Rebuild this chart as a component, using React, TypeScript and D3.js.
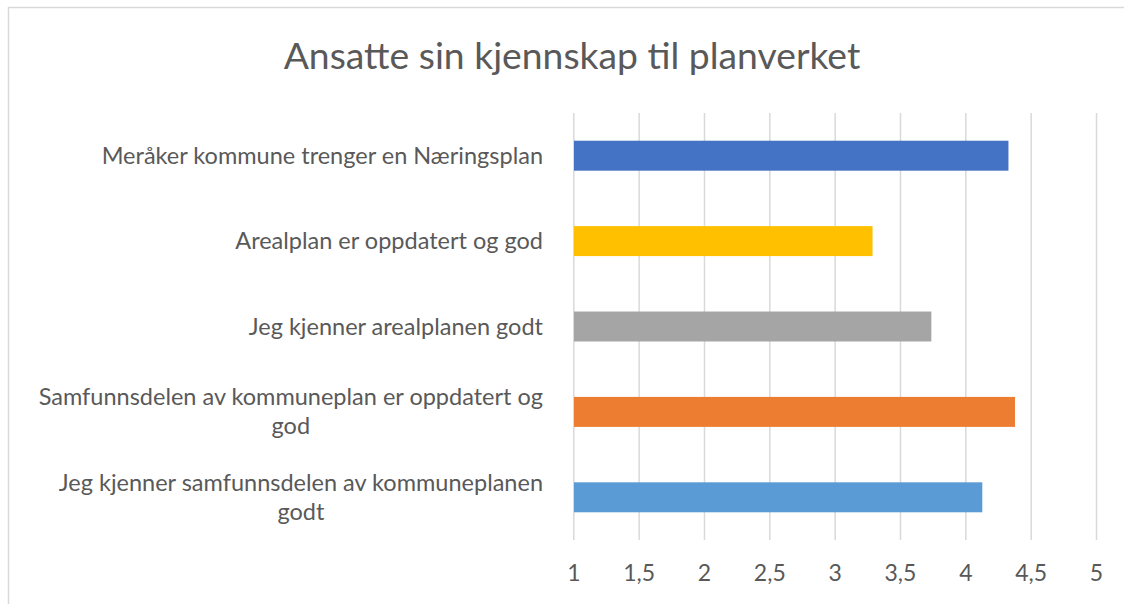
import React, { useEffect, useRef } from 'react';
import * as d3 from 'd3';

// chart data
const title = 'Ansatte sin kjennskap til planverket';
const categories = [
  'Meråker kommune trenger en Næringsplan',
  'Arealplan er oppdatert og god',
  'Jeg kjenner arealplanen godt',
  'Samfunnsdelen av kommuneplan er oppdatert og\ngod',
  'Jeg kjenner samfunnsdelen av kommuneplanen\ngodt',
];
const values = [4.33, 3.29, 3.74, 4.38, 4.13];
const barColors = ['#4472C4', '#FFC000', '#A5A5A5', '#ED7D31', '#5B9BD5'];
const xTicks = [1, 1.5, 2, 2.5, 3, 3.5, 4, 4.5, 5];

const W = 1124;
const H = 604;
const FONT = 'Lato, "Open Sans", sans-serif';

export default function App() {
  const ref = useRef<SVGSVGElement>(null);

  useEffect(() => {
    const svg = d3.select(ref.current);
    svg.selectAll('*').remove();

    const plot = { left: 573.3, right: 1096, top: 113, bottom: 540 };

    const x = d3.scaleLinear().domain([1, 5]).range([plot.left, plot.right]);
    const y = d3.scaleBand<string>()
      .domain(categories)
      .range([plot.top, plot.bottom])
      .paddingInner(0.649)
      .paddingOuter(0.3245);

    // chart frame (runs off the picture at right and bottom)
    svg.append('rect')
      .attr('x', 8.5).attr('y', 7.5)
      .attr('width', 1300).attr('height', 800)
      .attr('fill', '#fff')
      .attr('stroke', '#d9d9d9')
      .attr('stroke-width', 1.5);

    svg.append('text')
      .attr('x', 572).attr('y', 69)
      .attr('text-anchor', 'middle')
      .attr('font-family', FONT)
      .attr('font-size', 37.3)
      .attr('fill', '#595959')
      .text(title);

    // vertical gridlines
    const grid = svg.append('g')
      .attr('transform', 'translate(0,' + plot.bottom + ')')
      .call(d3.axisBottom(x).tickValues(xTicks).tickSize(-(plot.bottom - plot.top)).tickFormat(() => ''));
    grid.select('.domain').remove();
    grid.selectAll('line').attr('stroke', '#d9d9d9').attr('stroke-width', 1.5);

    // bars
    svg.append('g')
      .selectAll('rect')
      .data(categories)
      .join('rect')
      .attr('x', x(1) + 0.7)
      .attr('y', d => y(d)!)
      .attr('height', y.bandwidth())
      .attr('width', (d, i) => x(values[i]) - x(1) - 0.7)
      .attr('fill', (d, i) => barColors[i]);

    // x tick labels
    const ax = svg.append('g')
      .attr('transform', 'translate(0,' + plot.bottom + ')')
      .call(d3.axisBottom(x).tickValues(xTicks).tickSize(0).tickPadding(25)
        .tickFormat(d => String(d).replace('.', ',')));
    ax.select('.domain').remove();
    ax.selectAll('text')
      .attr('font-family', FONT)
      .attr('font-size', 23)
      .attr('fill', '#595959');

    // category labels: block right-aligned to the axis, lines centred in the block
    const labelRight = 543;
    const lineH = 29;
    categories.forEach(cat => {
      const lines = cat.split('\n');
      const g = svg.append('g');
      const texts = lines.map((ln, j) => g.append('text')
        .attr('y', y(cat)! + y.bandwidth() / 2 + (j - (lines.length - 1) / 2) * lineH + 8)
        .attr('font-family', FONT)
        .attr('font-size', 23.5)
        .attr('fill', '#595959')
        .text(ln));
      const widths = texts.map(t => (t.node() as SVGTextElement).getComputedTextLength());
      const maxW = Math.max(...widths);
      texts.forEach(t => t.attr('x', labelRight - maxW / 2).attr('text-anchor', 'middle'));
    });
  }, []);

  return (
    <svg ref={ref} width={W} height={H}
         style={{ position: 'absolute', left: 0, top: 0, display: 'block', background: '#fff' }} />
  );
}
